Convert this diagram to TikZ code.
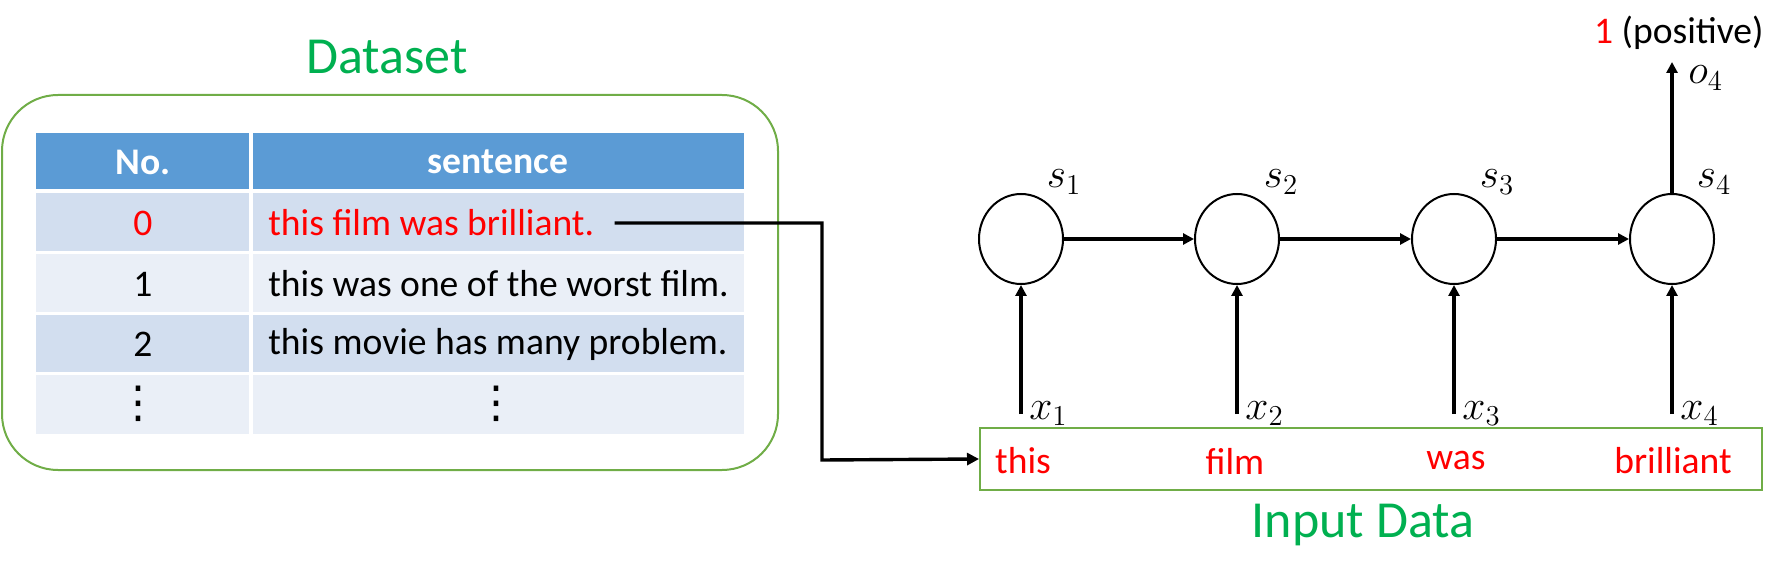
\documentclass[tikz,border=0pt]{standalone}
\usepackage{fontspec}
\setmainfont{Carlito}
\newfontfamily\dejavu{DejaVu Sans}
\usetikzlibrary{arrows.meta,shapes.geometric}
\definecolor{dgreen}{HTML}{00B050}
\definecolor{bgreen}{HTML}{70AD47}
\definecolor{hblue}{HTML}{5B9BD5}
\definecolor{rowA}{HTML}{D2DEEF}
\definecolor{rowB}{HTML}{EAEFF7}
\definecolor{myred}{HTML}{FF0000}
\tikzset{
  title/.style={text=dgreen,font=\fontsize{26}{30}\selectfont},
  cell/.style={font=\fontsize{18.8}{22}\selectfont,inner sep=0pt},
  hcell/.style={font=\fontsize{18.8}{22}\selectfont\bfseries,text=white,inner sep=0pt},
  dots/.style={font=\dejavu\fontsize{22}{24}\selectfont,inner sep=0pt},
  word/.style={font=\fontsize{18.8}{22}\selectfont,text=myred,inner sep=0pt},
  state/.style={draw,ellipse,line width=1pt,minimum width=42pt,minimum height=45pt,inner sep=0pt},
  lab/.style={font=\fontsize{21}{24}\selectfont,inner sep=0pt},
  arr/.style={line width=2pt,-{Triangle[length=5.5pt,width=5.5pt]}},
  conn/.style={line width=1.7pt,-{Triangle[length=6pt,width=6pt]}},
}
\begin{document}
\begin{tikzpicture}[x=0.5pt,y=-0.5pt]
\useasboundingbox (0,0) rectangle (1786,582);
% dataset
\node[title] (dtitle) at (387,57) {Dataset};
\draw[bgreen,line width=1pt,rounded corners=28pt] (2,95) rectangle (778,470);
% table
\fill[hblue] (36,133) rectangle (249,189);
\fill[hblue] (253,133) rectangle (744,189);
\fill[rowA] (36,193) rectangle (249,251);
\fill[rowA] (253,193) rectangle (744,251);
\fill[rowB] (36,254) rectangle (249,312);
\fill[rowB] (253,254) rectangle (744,312);
\fill[rowA] (36,315) rectangle (249,372);
\fill[rowA] (253,315) rectangle (744,372);
\fill[rowB] (36,375) rectangle (249,434);
\fill[rowB] (253,375) rectangle (744,434);
\node[hcell] (hno) at (143,162) {No.};
\node[hcell] (hsen) at (498,162) {sentence};
\node[cell,text=myred] (n0) at (143,223) {0};
\node[cell,text=myred,anchor=west] (s0) at (268,223) {this film was brilliant.};
\node[cell] (n1) at (143,284) {1};
\node[cell,anchor=west] (s1) at (268,284) {this was one of the worst film.};
\node[cell] (n2) at (143,344) {2};
\node[cell,anchor=west] (s2) at (268,344) {this movie has many problem.};
\node[dots] (n3) at (138,404) {⋮};
\node[dots] (s3) at (496,404) {⋮};
% input box
\node[draw=bgreen,line width=1pt,minimum width=391pt,minimum height=31pt,inner sep=0pt] (inp) at (1371,459) {};
\node[word] (w1) at (1023,461) {this};
\node[word] (w2) at (1235,461) {film};
\node[word] (w3) at (1456,461) {was};
\node[word] (w4) at (1673,461) {brilliant};
\node[title] (ititle) at (1363,525) {Input Data};
% connector dataset -> input
\coordinate (bend) at (822,460);
\draw[conn] ([xshift=10pt]s0.east) -| (bend) -- (inp.west);
% states
\node[state] (c1) at (1021,239) {};
\node[state] (c2) at (1237,239) {};
\node[state] (c3) at (1454,239) {};
\node[state] (c4) at (1672,239) {};
\draw[arr] (c1) -- (c2);
\draw[arr] (c2) -- (c3);
\draw[arr] (c3) -- (c4);
\node[lab] at (1064,182) {$s_1$};
\node[lab] at (1281,182) {$s_2$};
\node[lab] at (1497,182) {$s_3$};
\node[lab] at (1714,182) {$s_4$};
% inputs
\foreach \i/\x in {1/1021,2/1237,3/1454,4/1672}{
  \coordinate (b\i) at (\x,414);
  \draw[arr] (b\i) -- (c\i.south);
  \node[lab,anchor=south west] at ([xshift=4pt,yshift=-6pt]b\i) {$x_{\i}$};
}
% output
\coordinate (out) at (1672,62);
\draw[arr] (c4.north) -- (out);
\node[lab,anchor=west] at (1688,78) {$o_4$};
\node[cell,anchor=east] (pos) at (1764,33) {\textcolor{myred}{1} (positive)};
\end{tikzpicture}
\end{document}
